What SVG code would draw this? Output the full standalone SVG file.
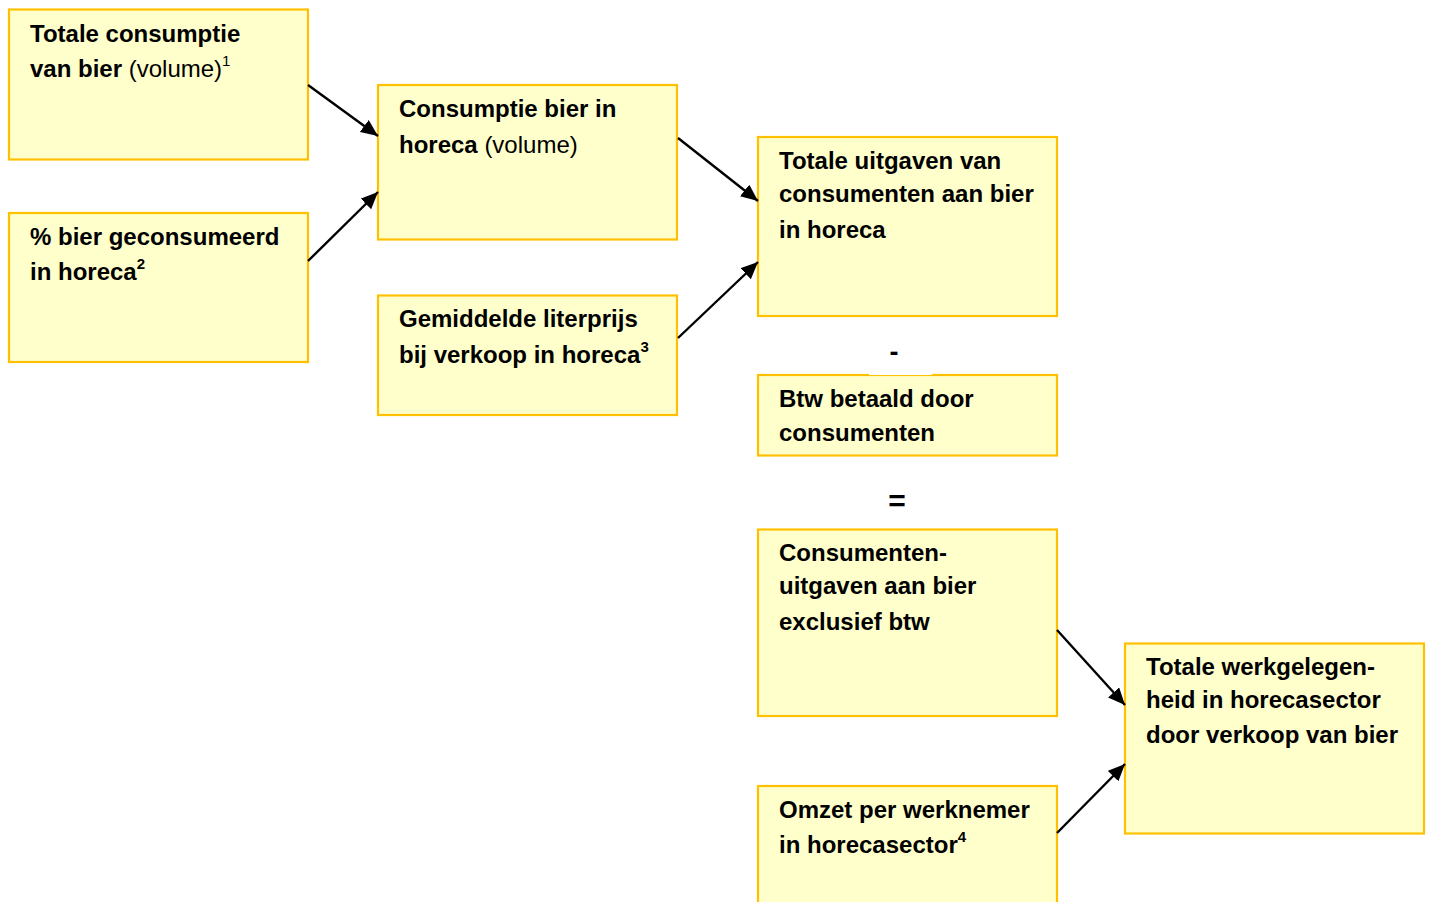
<svg xmlns="http://www.w3.org/2000/svg" width="1429" height="902" viewBox="0 0 1429 902">
<style>
.box{fill:#FFFFCC;stroke:#FFC000;stroke-width:2.2}
.t{font-family:"Liberation Sans",Arial,sans-serif;font-size:24px;font-weight:bold;fill:#000}
.n{font-weight:normal}
.sup{font-size:15px;font-weight:bold}
.supn{font-size:15px;font-weight:normal}
.c{stroke:#000;stroke-width:2.4;fill:none;marker-end:url(#ah)}
</style>
<defs>
<marker id="ah" markerUnits="userSpaceOnUse" markerWidth="18" markerHeight="16" refX="17" refY="7.5" orient="auto">
<path d="M0,0 L17,7.5 L0,15 z" fill="#000"/>
</marker>
</defs>
<rect width="1429" height="902" fill="#fff"/>
<g id="n1">
<rect class="box" x="9" y="9.5" width="299" height="150"/>
<text class="t" x="30" y="42">Totale consumptie</text>
<text class="t" x="30" y="77">van bier <tspan class="n">(volume)</tspan><tspan class="supn" dy="-11">1</tspan></text>
</g>
<g id="n2">
<rect class="box" x="9" y="213" width="299" height="149"/>
<text class="t" x="30" y="245">% bier geconsumeerd</text>
<text class="t" x="30" y="280">in horeca<tspan class="sup" dy="-11">2</tspan></text>
</g>
<g id="n3">
<rect class="box" x="378" y="85" width="299" height="154.5"/>
<text class="t" x="399" y="117">Consumptie bier in</text>
<text class="t" x="399" y="152.5">horeca <tspan class="n">(volume)</tspan></text>
</g>
<g id="n4">
<rect class="box" x="378" y="295.5" width="299" height="119.5"/>
<text class="t" x="399" y="327">Gemiddelde literprijs</text>
<text class="t" x="399" y="363">bij verkoop in horeca<tspan class="sup" dy="-11">3</tspan></text>
</g>
<g id="n5">
<rect class="box" x="758" y="137" width="299" height="179"/>
<text class="t" x="779" y="168.5">Totale uitgaven van</text>
<text class="t" x="779" y="202">consumenten aan bier</text>
<text class="t" x="779" y="238">in horeca</text>
</g>
<g id="n6">
<rect class="box" x="758" y="375" width="299" height="80.5"/>
<rect x="869" y="340" width="63" height="35" fill="#fff"/>
<text class="t" x="894" y="361" text-anchor="middle" style="font-size:27px">-</text>
<text class="t" x="779" y="407">Btw betaald door</text>
<text class="t" x="779" y="440.5">consumenten</text>
</g>
<g id="n7">
<text class="t" x="897" y="511" text-anchor="middle" style="font-size:30px">=</text>
</g>
<g id="n8">
<rect class="box" x="758" y="529.5" width="299" height="186.5"/>
<text class="t" x="779" y="561">Consumenten-</text>
<text class="t" x="779" y="594">uitgaven aan bier</text>
<text class="t" x="779" y="629.5">exclusief btw</text>
</g>
<g id="n9">
<rect class="box" x="1125" y="643.5" width="299" height="190"/>
<text class="t" x="1146" y="674.5">Totale werkgelegen-</text>
<text class="t" x="1146" y="707.5">heid in horecasector</text>
<text class="t" x="1146" y="742.5">door verkoop van bier</text>
</g>
<g id="n10">
<rect class="box" x="758" y="786" width="299" height="130"/>
<text class="t" x="779" y="817.5">Omzet per werknemer</text>
<text class="t" x="779" y="853">in horecasector<tspan class="sup" dy="-11">4</tspan></text>
</g>
<g id="connectors">
<line class="c" x1="308" y1="85" x2="378" y2="136"/>
<line class="c" x1="308" y1="261" x2="378" y2="192"/>
<line class="c" x1="678" y1="138" x2="758" y2="201"/>
<line class="c" x1="678" y1="338" x2="758" y2="262"/>
<line class="c" x1="1057" y1="630" x2="1125" y2="705"/>
<line class="c" x1="1057" y1="833" x2="1125" y2="764"/>
</g>
</svg>
